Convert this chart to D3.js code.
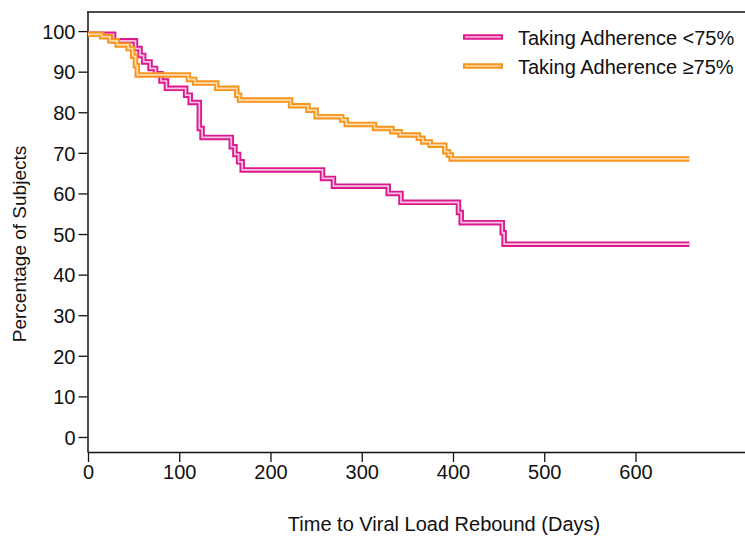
<!DOCTYPE html>
<html>
<head>
<meta charset="utf-8">
<script src="https://cdn.jsdelivr.net/npm/d3@7"></script>
<style>
  body { margin: 0; background: #fff; }
  text { font-family: "Liberation Sans", Arial, sans-serif; fill: #111; }
</style>
</head>
<body>
<div id="container"></div>
<script>
// Kaplan-Meier style step data (days, percent)
var lowDays = [0, 28, 52, 57, 61, 68, 74, 80, 86, 107, 112, 122, 125, 157, 161, 165, 169, 257, 269, 329, 343, 406, 409, 454, 456, 659];
var lowPct  = [99.2, 97.6, 95.7, 94.0, 92.4, 90.8, 89.5, 87.7, 85.9, 84.2, 82.4, 76.0, 73.8, 71.5, 69.6, 67.8, 65.8, 63.7, 61.8, 60.0, 57.8, 55.3, 52.8, 50.3, 47.5, 47.5];

var highDays = [0, 15, 24, 32, 44, 49, 52, 54, 110, 117, 141, 163, 166, 222, 241, 250, 278, 283, 314, 333, 342, 362, 367, 375, 391, 395, 398, 659];
var highPct  = [99.2, 98.6, 97.6, 96.6, 95.7, 93.8, 91.5, 89.2, 88.1, 87.2, 85.9, 84.2, 83.0, 81.6, 80.5, 78.9, 78.1, 77.0, 76.0, 75.2, 74.4, 73.6, 72.7, 71.9, 70.3, 69.5, 68.5, 68.5];

var seriesNames = ["Taking Adherence <75%", "Taking Adherence \u226575%"];
var xTicks = [0, 100, 200, 300, 400, 500, 600];
var yTicks = [0, 10, 20, 30, 40, 50, 60, 70, 80, 90, 100];

var width = 745;
var height = 537;

var svg = d3.select("#container")
  .append("svg")
  .attr("width", width)
  .attr("height", height);

var x = d3.scaleLinear().domain([0, 720]).range([88, 745]);
var y = d3.scaleLinear().domain([-3.7, 104.7]).range([452, 12]);

// series styles: outer colour and the light inner stripe
var colors = ["#dc1a8e", "#f7941d"];
var inner = ["#f8c3e1", "#fddcae"];

function toPoints(days, pct) {
  return days.map(function(d, i) { return [d, pct[i]]; });
}
var series = [toPoints(lowDays, lowPct), toPoints(highDays, highPct)];

var line = d3.line()
  .x(function(d) { return x(d[0]); })
  .y(function(d) { return y(d[1]); })
  .curve(d3.curveStepAfter);

// top border
svg.append("line")
  .attr("x1", x.range()[0] - 1).attr("x2", width)
  .attr("y1", y.range()[1]).attr("y2", y.range()[1])
  .attr("stroke", "#111").attr("stroke-width", 1.5);

// y axis
var yAxis = svg.append("g")
  .attr("transform", "translate(" + (x.range()[0] - 0.5) + ",0)")
  .call(d3.axisLeft(y).tickValues(yTicks).tickSize(9).tickSizeOuter(0).tickPadding(3));

// x axis
var xAxis = svg.append("g")
  .attr("transform", "translate(0," + y.range()[0] + ")")
  .call(d3.axisBottom(x).tickValues(xTicks).tickSize(10).tickSizeOuter(0).tickPadding(3));

[yAxis, xAxis].forEach(function(ax) {
  ax.select(".domain").attr("stroke", "#111").attr("stroke-width", 1.5);
  ax.selectAll(".tick line").attr("stroke", "#111").attr("stroke-width", 1.3);
  ax.selectAll(".tick text")
    .attr("fill", "#111")
    .style("font-size", "20px")
    .style("font-family", "'Liberation Sans', Arial, sans-serif");
});
yAxis.selectAll(".tick text").attr("dy", "0.36em");

// curves: thick coloured stroke with a light stripe inside
series.forEach(function(s, i) {
  svg.append("path")
    .datum(s)
    .attr("fill", "none")
    .attr("stroke", colors[i])
    .attr("stroke-width", 5.5)
    .attr("d", line);
  svg.append("path")
    .datum(s)
    .attr("fill", "none")
    .attr("stroke", inner[i])
    .attr("stroke-width", 1.7)
    .attr("d", line);
});

// legend
var legend = svg.append("g");
seriesNames.forEach(function(name, i) {
  var ly = 37 + i * 29;
  legend.append("line")
    .attr("x1", 463).attr("x2", 503)
    .attr("y1", ly).attr("y2", ly)
    .attr("stroke", colors[i]).attr("stroke-width", 5.5);
  legend.append("line")
    .attr("x1", 465).attr("x2", 501)
    .attr("y1", ly).attr("y2", ly)
    .attr("stroke", inner[i]).attr("stroke-width", 1.7);
  legend.append("text")
    .attr("x", 518)
    .attr("y", ly + 7.5)
    .style("font-size", "20px")
    .text(name);
});

// axis titles
svg.append("text")
  .attr("x", 444)
  .attr("y", 531)
  .attr("text-anchor", "middle")
  .style("font-size", "20px")
  .text("Time to Viral Load Rebound (Days)");

svg.append("text")
  .attr("transform", "translate(26,244) rotate(-90)")
  .attr("text-anchor", "middle")
  .style("font-size", "19px")
  .text("Percentage of Subjects");
</script>
</body>
</html>
